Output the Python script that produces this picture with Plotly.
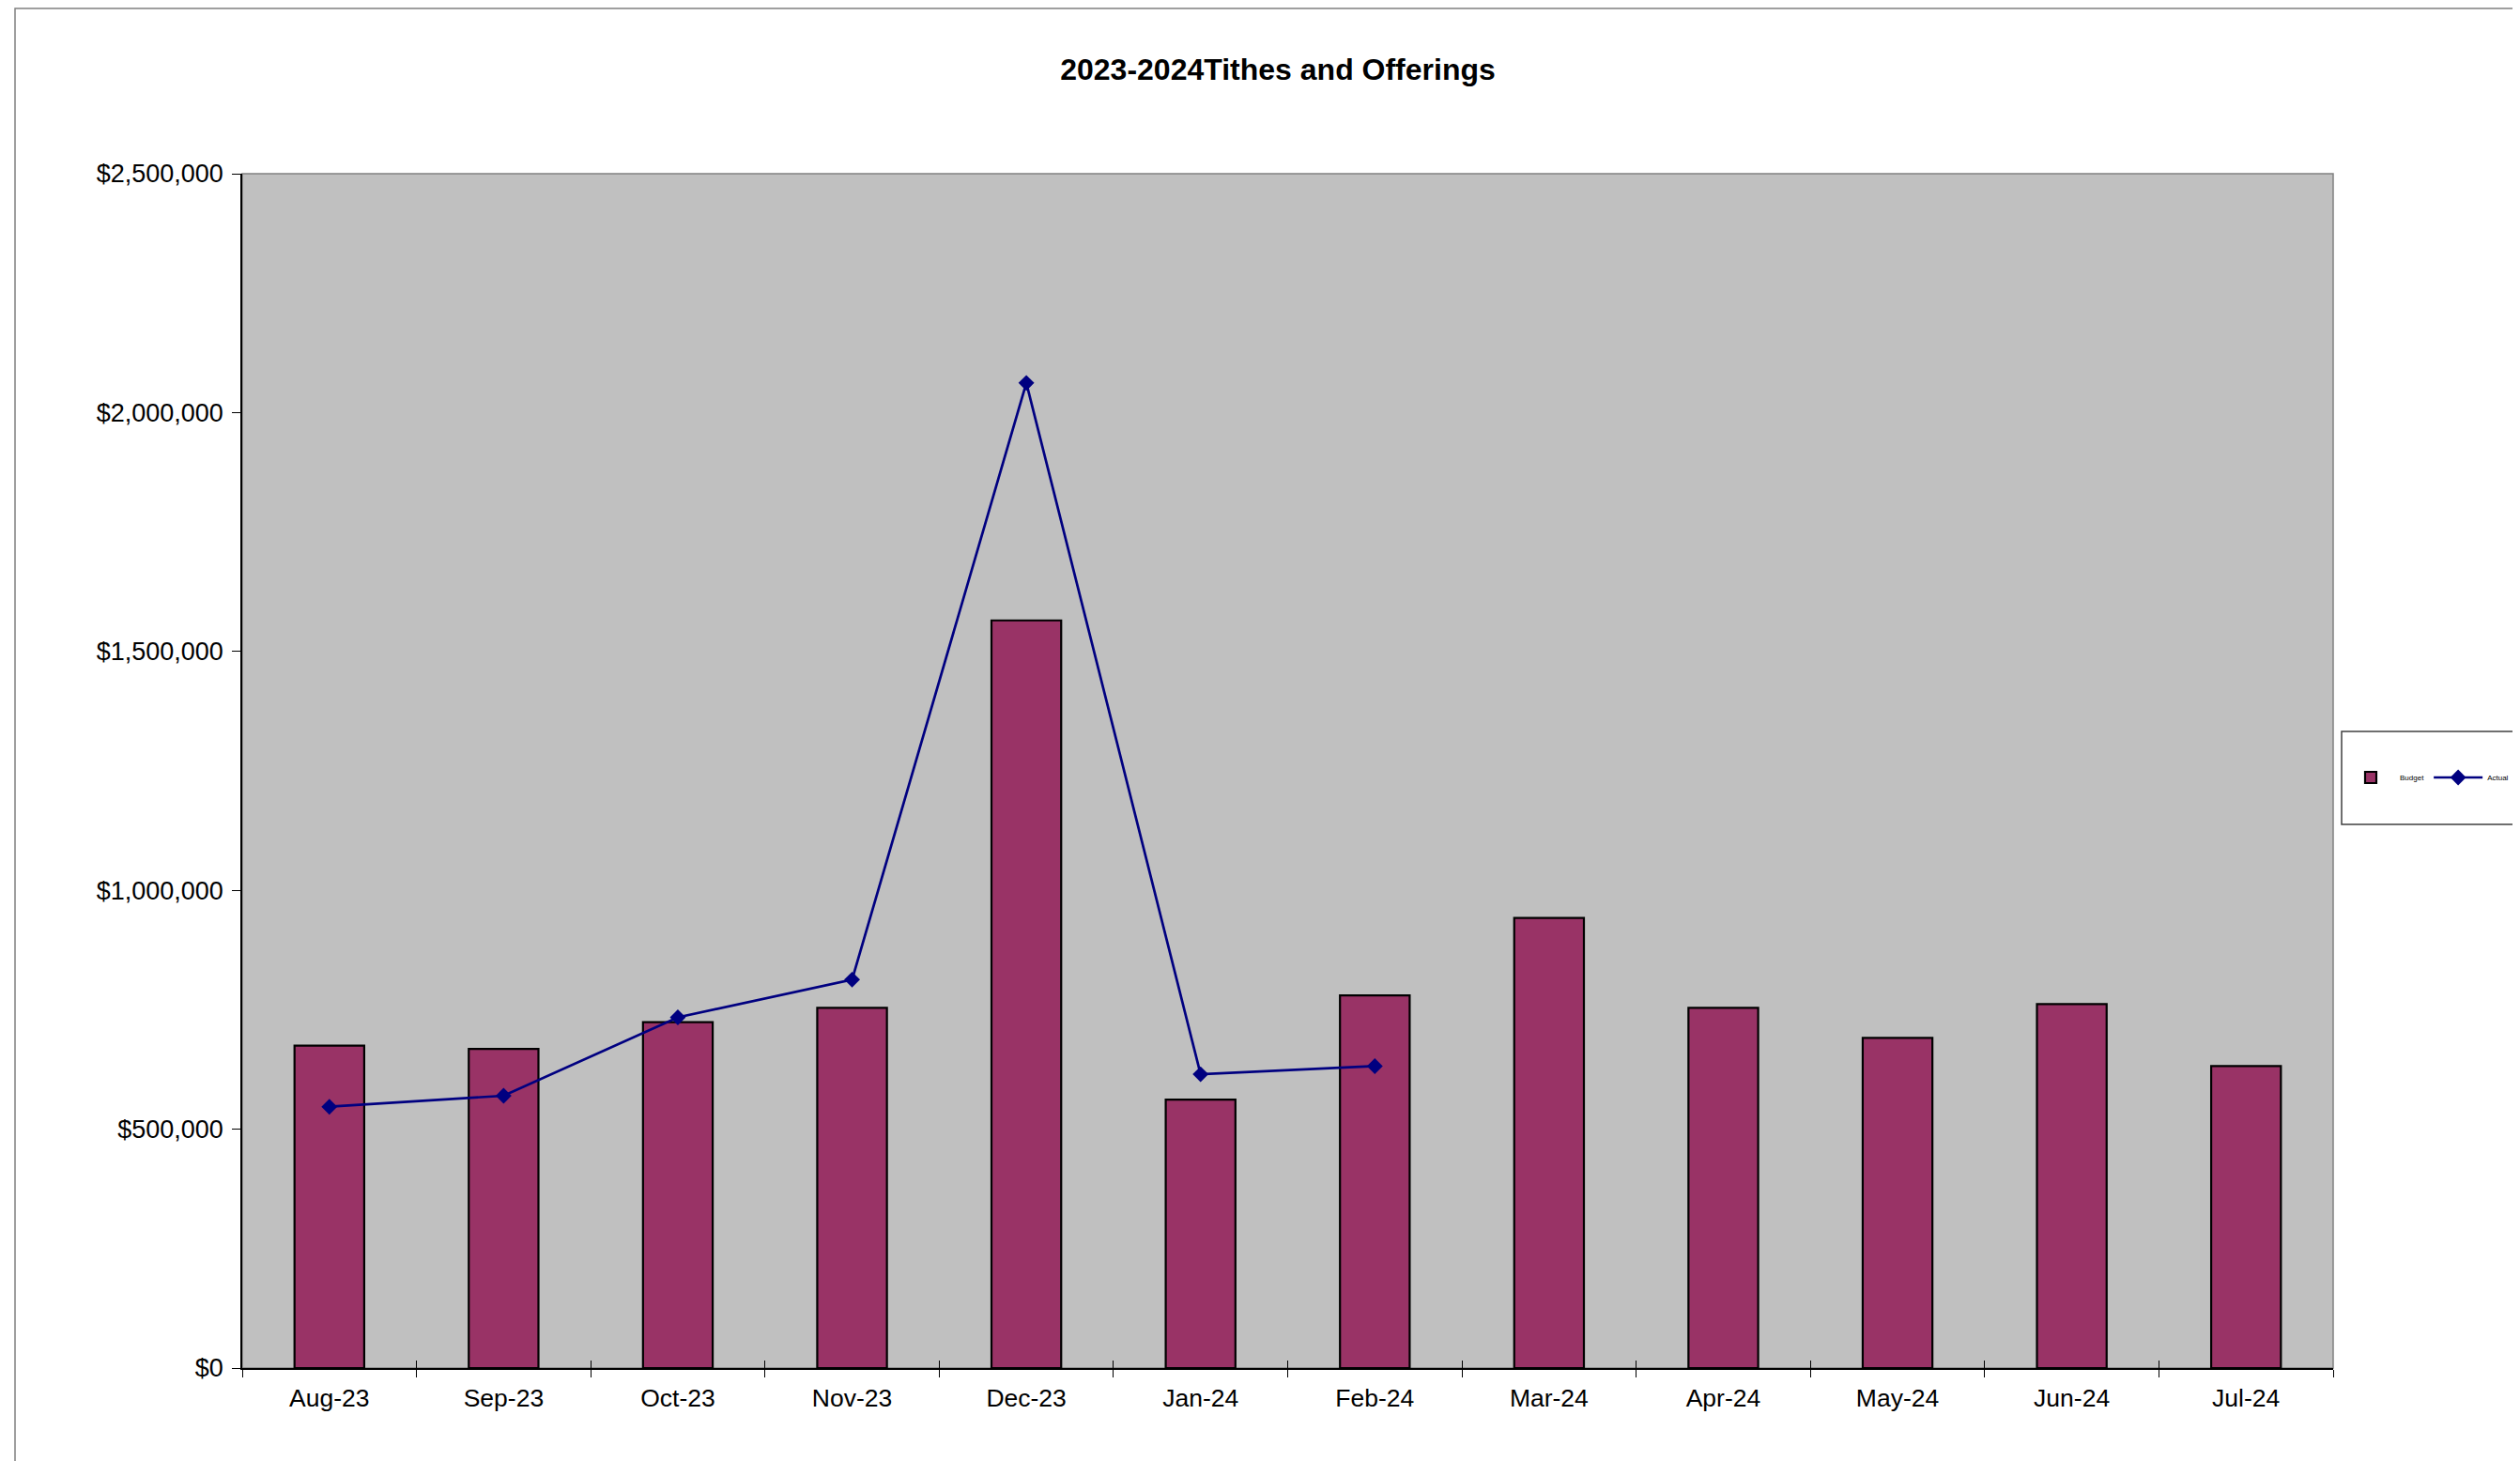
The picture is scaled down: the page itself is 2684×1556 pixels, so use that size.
import plotly.graph_objects as go

months = ["Aug-23", "Sep-23", "Oct-23", "Nov-23", "Dec-23", "Jan-24",
          "Feb-24", "Mar-24", "Apr-24", "May-24", "Jun-24", "Jul-24"]
budget = [675000, 668000, 724000, 754000, 1565000, 562000,
          780000, 942000, 754000, 691000, 762000, 632000]
actual_months = ["Aug-23", "Sep-23", "Oct-23", "Nov-23", "Dec-23", "Jan-24", "Feb-24"]
actual = [547000, 570000, 734000, 813000, 2062000, 615000, 632000]
y_ticks = [0, 500000, 1000000, 1500000, 2000000, 2500000]
title_text = "2023-2024Tithes and Offerings"

FONT = "Liberation Sans, Arial, sans-serif"

OFF = 8  # browser body margin
W, H = 2684 - OFF, 1556 - OFF
# plot area in reference page pixels
PX0, PX1, PY0, PY1 = 258, 2485, 185, 1457
L, T = PX0 - OFF, PY0 - OFF
pw, ph = PX1 - PX0, PY1 - PY0
R, B = W - L - pw, H - T - ph

def px_x(x):
    return (x - PX0) / pw

def px_y(y):
    return (PY1 - y) / ph

fig = go.Figure()
fig.add_trace(go.Bar(
    x=months, y=budget, name="Budget",
    marker=dict(color="#993366", line=dict(color="black", width=2.2)),
))
fig.add_trace(go.Scatter(
    x=actual_months, y=actual, name="Actual", mode="lines+markers",
    line=dict(color="#000080", width=2.7),
    marker=dict(symbol="diamond", size=13, color="#000080"),
))
# helper empty trace so the overlaid tick axis is drawn
fig.add_trace(go.Scatter(x=[], y=[], xaxis="x2", showlegend=False, hoverinfo="skip"))

fig.update_layout(
    width=W, height=H, autosize=False,
    margin=dict(l=L, r=R, t=T, b=B, pad=0, autoexpand=False),
    paper_bgcolor="white", plot_bgcolor="#C0C0C0",
    font=dict(family=FONT, color="black", size=26),
    bargap=0.6,
    showlegend=True,
    title=dict(text="<b>" + title_text + "</b>", x=px_x(1361), xref="paper",
               xanchor="center", y=1 - (74 - OFF) / H, yanchor="middle",
               font=dict(family=FONT, size=32, color="black")),
    xaxis=dict(type="category", categoryorder="array", categoryarray=months,
               range=[-0.5, 11.5], showline=True, linecolor="black", linewidth=1.5,
               ticks="outside", ticklen=8, tickwidth=1, tickcolor="black",
               tickson="boundaries", showgrid=False, zeroline=False,
               ticklabelstandoff=7, automargin=False,
               tickfont=dict(family=FONT, size=26.5, color="black")),
    xaxis2=dict(overlaying="x", anchor="y", range=[-0.5, 11.5],
                tickvals=[i - 0.5 for i in range(13)], ticks="inside", ticklen=8,
                tickcolor="black", tickwidth=1, showticklabels=False,
                showgrid=False, zeroline=False, showline=False, side="bottom"),
    yaxis=dict(range=[0, 2500000], tickvals=y_ticks, tickformat="$,.0f",
               showline=True, linecolor="black", linewidth=1.5,
               ticks="outside", ticklen=9, tickcolor="black", tickwidth=1,
               showgrid=False, zeroline=False, ticklabelstandoff=4, automargin=False,
               tickfont=dict(family=FONT, size=27, color="black")),
    legend=dict(orientation="h", x=px_x(2494), xanchor="left",
                y=px_y(828), yanchor="middle",
                bgcolor="rgba(0,0,0,0)", borderwidth=0,
                font=dict(family=FONT, size=8, color="black"),
                itemwidth=52, tracegroupgap=0),
    shapes=[
        # outer chart area border
        dict(type="rect", xref="paper", yref="paper",
             x0=px_x(16), x1=px_x(2720), y0=px_y(1600), y1=px_y(9),
             line=dict(color="#808080", width=1.5), fillcolor="rgba(0,0,0,0)"),
        # plot area border (top/right gray)
        dict(type="rect", xref="paper", yref="paper", x0=0, x1=1, y0=0, y1=1,
             line=dict(color="#808080", width=1.5), fillcolor="rgba(0,0,0,0)",
             layer="below"),
        # legend box
        dict(type="rect", xref="paper", yref="paper",
             x0=px_x(2494), x1=px_x(2720), y0=px_y(878), y1=px_y(779),
             line=dict(color="#404040", width=1.5), fillcolor="white"),
    ],
)

fig.write_html("out.html")
